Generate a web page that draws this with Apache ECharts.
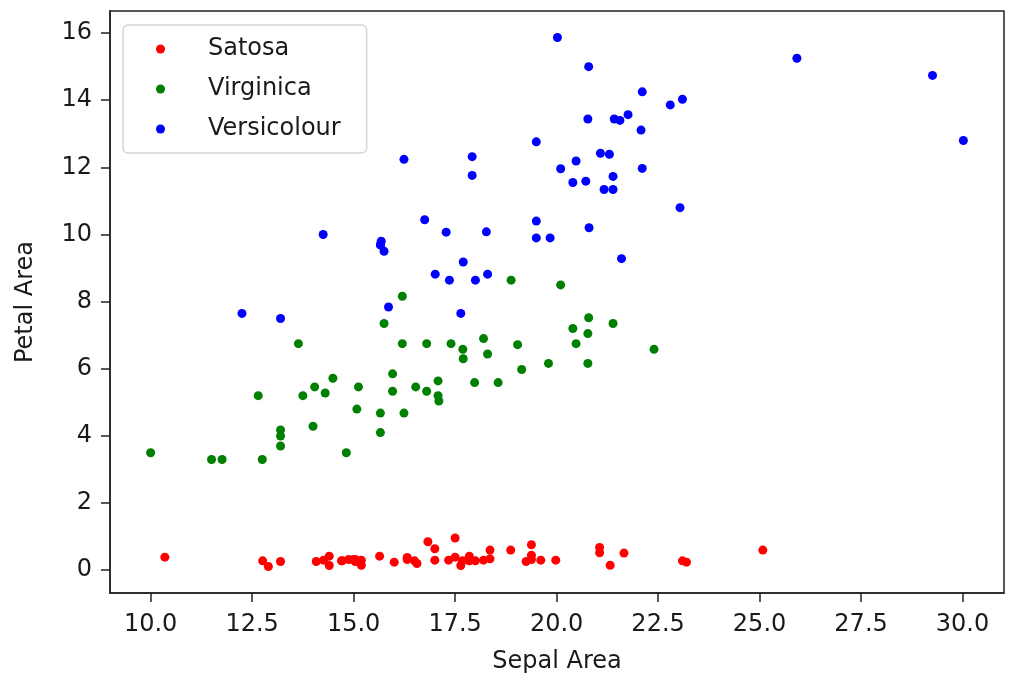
<!DOCTYPE html>
<html>
<head>
<meta charset="utf-8">
<script src="https://cdn.jsdelivr.net/npm/echarts@6/dist/echarts.min.js"></script>
<style>
  html, body { margin: 0; padding: 0; background: #fff; }
  #chart { width: 1010px; height: 682px; }
</style>
</head>
<body>
<div id="chart"></div>
<script>
// legend names as in the original figure
const seriesNames = ['Satosa', 'Virginica', 'Versicolour']
const seriesColors = ['#ff0000', '#008000', '#0000ff']

// [sepal area, petal area]
const satosa = [
  [17.85, 0.28], [14.7, 0.28], [15.04, 0.26], [14.26, 0.3], [18.0, 0.28],
  [21.06, 0.68], [15.64, 0.42], [17.0, 0.3], [12.76, 0.28], [15.19, 0.15],
  [19.98, 0.3], [16.32, 0.32], [14.4, 0.14], [12.9, 0.11], [23.2, 0.24],
  [25.08, 0.6], [21.06, 0.52], [17.85, 0.42], [21.66, 0.51], [19.38, 0.45],
  [18.36, 0.34], [18.87, 0.6], [16.56, 0.2], [16.83, 0.85], [16.32, 0.38],
  [15.0, 0.32], [17.0, 0.64], [18.2, 0.3], [17.68, 0.28], [15.04, 0.32],
  [14.88, 0.32], [18.36, 0.6], [21.32, 0.15], [23.1, 0.28], [15.19, 0.3],
  [16.0, 0.24], [19.25, 0.26], [17.64, 0.14], [13.2, 0.26], [17.34, 0.3],
  [17.5, 0.39], [10.35, 0.39], [14.08, 0.26], [17.5, 0.96], [19.38, 0.76],
  [14.4, 0.42], [19.38, 0.32], [14.72, 0.28], [19.61, 0.3], [16.5, 0.28]
]

const virginica = [
  [22.4, 6.58], [20.48, 6.75], [21.39, 7.35], [12.65, 5.2], [18.2, 6.9],
  [15.96, 5.85], [20.79, 7.52], [11.76, 3.3], [19.14, 5.98], [14.04, 5.46],
  [10.0, 3.5], [17.7, 6.3], [13.2, 4.0], [17.69, 6.58], [16.24, 4.68],
  [20.77, 6.16], [16.8, 6.75], [15.66, 4.1], [13.64, 6.75], [14.0, 4.29],
  [18.88, 8.64], [17.08, 5.2], [15.75, 7.35], [17.08, 5.64], [18.56, 5.59],
  [19.8, 6.16], [19.04, 6.72], [20.1, 8.5], [17.4, 6.75], [14.82, 3.5],
  [13.2, 4.18], [13.2, 3.7], [15.66, 4.68], [16.2, 8.16], [16.2, 6.75],
  [20.4, 7.2], [20.77, 7.05], [14.49, 5.72], [16.8, 5.33], [13.75, 5.2],
  [14.3, 5.28], [18.3, 6.44], [15.08, 4.8], [11.5, 3.3], [15.12, 5.46],
  [17.1, 5.04], [16.53, 5.46], [17.98, 5.59], [12.75, 3.3], [15.96, 5.33]
]

const versicolour = [
  [20.79, 15.0], [15.66, 9.69], [21.3, 12.39], [18.27, 10.08], [19.5, 12.76],
  [22.8, 13.86], [12.25, 7.65], [21.17, 11.34], [16.75, 10.44], [25.92, 15.25],
  [20.8, 10.2], [17.28, 10.07], [20.4, 11.55], [14.25, 10.0], [16.24, 12.24],
  [20.48, 12.19], [19.5, 9.9], [29.26, 14.74], [20.02, 15.87], [13.2, 7.5],
  [22.08, 13.11], [15.68, 9.8], [21.56, 13.4], [17.01, 8.82], [22.11, 11.97],
  [23.04, 10.8], [17.36, 8.64], [18.3, 8.82], [17.92, 11.76], [21.6, 9.28],
  [20.72, 11.59], [30.02, 12.8], [17.92, 12.32], [17.64, 7.65], [15.86, 7.84],
  [23.1, 14.03], [21.42, 13.44], [19.84, 9.9], [18.0, 8.64], [21.39, 11.34],
  [20.77, 13.44], [21.39, 11.73], [15.66, 9.69], [21.76, 13.57], [22.11, 14.25],
  [20.1, 11.96], [15.75, 9.5], [19.5, 10.4], [21.08, 12.42], [17.7, 9.18]
]

const xTicks = [10, 12.5, 15, 17.5, 20, 22.5, 25, 27.5, 30]
const yTicks = [0, 2, 4, 6, 8, 10, 12, 14, 16]

const font = 'DejaVu Sans'
const textColor = '#1a1a1a'
const lineColor = '#222'

const chart = echarts.init(document.getElementById('chart'), null, { renderer: 'canvas' })

chart.setOption({
  animation: false,
  backgroundColor: '#fff',
  textStyle: { fontFamily: font },
  grid: {
    left: 110, right: 6, top: 11, bottom: 89,
    show: true, borderColor: lineColor, borderWidth: 1.5,
    containLabel: false
  },
  legend: {
    orient: 'vertical',
    left: 123, top: 25,
    padding: [10, 26, 10, 33],
    itemWidth: 9, itemHeight: 9, itemGap: 12,
    icon: 'circle',
    borderColor: '#d6d6d6', borderWidth: 1.5, borderRadius: 5,
    backgroundColor: 'rgba(255,255,255,0.8)',
    textStyle: {
      fontFamily: font, fontSize: 24, color: textColor,
      lineHeight: 28, padding: [0, 0, 0, 38]
    },
    data: seriesNames
  },
  xAxis: {
    type: 'value',
    min: 8.999, max: 31.021,
    name: 'Sepal Area',
    nameLocation: 'middle', nameGap: 57,
    nameTextStyle: { fontFamily: font, fontSize: 24, color: textColor },
    axisLine: { show: true, onZero: false, lineStyle: { color: lineColor, width: 1.5 } },
    axisTick: { show: true, inside: false, length: 9, customValues: xTicks, lineStyle: { color: lineColor, width: 1.5 } },
    axisLabel: {
      customValues: xTicks, margin: 20,
      fontFamily: font, fontSize: 24, color: textColor,
      formatter: v => Number(v).toFixed(1)
    },
    splitLine: { show: false }
  },
  yAxis: {
    type: 'value',
    min: -0.678, max: 16.658,
    name: 'Petal Area',
    nameLocation: 'middle', nameGap: 72,
    nameTextStyle: { fontFamily: font, fontSize: 24, color: textColor },
    axisLine: { show: true, onZero: false, lineStyle: { color: lineColor, width: 1.5 } },
    axisTick: { show: true, inside: false, length: 9, customValues: yTicks, lineStyle: { color: lineColor, width: 1.5 } },
    axisLabel: {
      customValues: yTicks, margin: 18,
      fontFamily: font, fontSize: 24, color: textColor,
      formatter: v => String(Math.round(v))
    },
    splitLine: { show: false }
  },
  series: [satosa, virginica, versicolour].map((data, i) => ({
    name: seriesNames[i],
    type: 'scatter',
    symbol: 'circle',
    symbolSize: 9,
    itemStyle: { color: seriesColors[i], opacity: 1 },
    data: data
  }))
})
</script>
</body>
</html>
